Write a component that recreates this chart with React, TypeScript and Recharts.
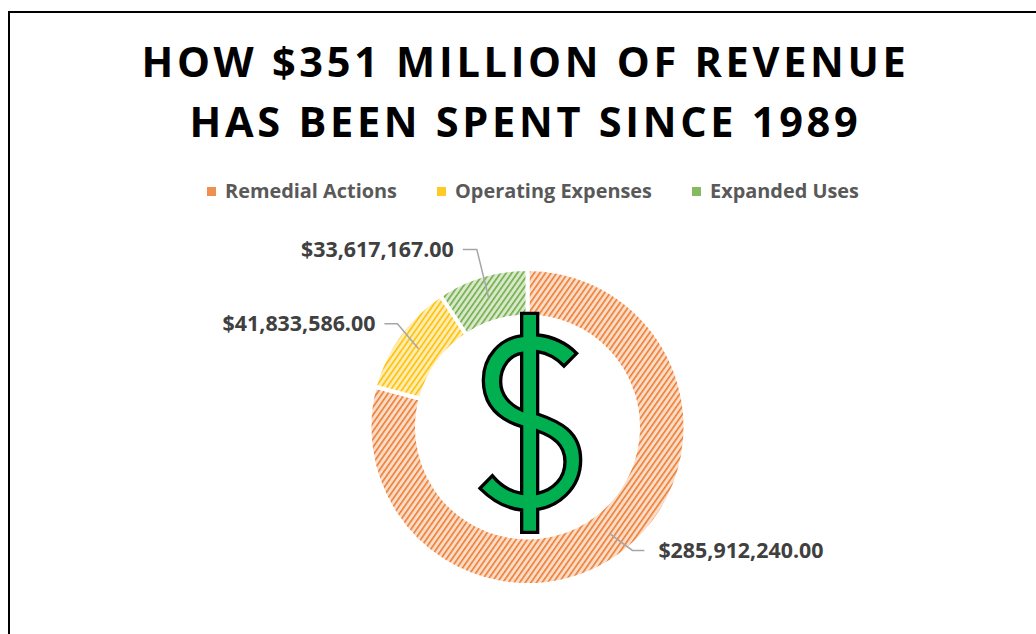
import { PieChart, Pie, Cell, Legend } from 'recharts';

const categories = ['Remedial Actions', 'Operating Expenses', 'Expanded Uses'];
const amounts = [285912240, 41833586, 33617167];
const titleLines = ['HOW $351 MILLION OF REVENUE', 'HAS BEEN SPENT SINCE 1989'];

const stripes = ['#ED7D31', '#FFC000', '#70AD47'];
const tints = ['#FBDCC8', '#FFEDB5', '#D8E8CB'];
// offset of the label's text anchor from the ring midpoint, then the elbow
const labelOffsets = [
  { elbowX: 23, elbowY: 17, endX: 35, anchor: 'start' },
  { elbowX: -21, elbowY: -25, endX: -34, anchor: 'end' },
  { elbowX: -12, elbowY: -49, endX: -26, anchor: 'end' },
];

const chartData = categories.map((name, i) => ({ name, value: amounts[i] }));
const money = (v: number) => '$' + v.toLocaleString('en-US', { minimumFractionDigits: 2 });

const RAD = Math.PI / 180;

function SliceLabel(props: any) {
  const { cx, cy, midAngle, innerRadius, outerRadius, index, value } = props;
  const r = (innerRadius + outerRadius) / 2;
  const x = cx + r * Math.cos(-midAngle * RAD);
  const y = cy + r * Math.sin(-midAngle * RAD);
  const o = labelOffsets[index];
  const ex = x + o.elbowX;
  const ey = y + o.elbowY;
  const tx = x + o.endX;
  return (
    <g>
      <polyline points={`${x},${y} ${ex},${ey} ${tx},${ey}`} fill="none" stroke="#A6A6A6" strokeWidth={1.5} />
      <text
        x={tx + (o.anchor === 'start' ? 14 : -9)}
        y={ey + 2}
        textAnchor={o.anchor}
        dominantBaseline="middle"
        fontFamily="Open Sans"
        fontWeight={700}
        fontSize={21.4}
        fill="#404040"
      >
        {money(value)}
      </text>
    </g>
  );
}

function LegendRow() {
  return (
    <div style={{ display: 'flex', fontFamily: 'Open Sans', fontWeight: 700, fontSize: 19.9, color: '#595959', lineHeight: '26px' }}>
      {categories.map((c, i) => (
        <div key={c} style={{ display: 'flex', alignItems: 'center', marginRight: 40 }}>
          <svg width={9} height={9} style={{ marginRight: 9 }}>
            <rect width={9} height={9} fill={stripes[i]} opacity={0.85} />
          </svg>
          <span style={{ whiteSpace: 'nowrap' }}>{c}</span>
        </div>
      ))}
    </div>
  );
}

function DollarSign() {
  return (
    <svg width={1036} height={634} style={{ position: 'absolute', left: 0, top: 0, pointerEvents: 'none' }}>
      <g transform="translate(460 300) scale(0.3333)">
        <path
          fill="#00B050"
          fillRule="evenodd"
          stroke="#000"
          strokeWidth={10}
          strokeLinejoin="miter"
          d="M185 40 L233 40 L233 105 C280 110 320 130 350 160 L312 198 C290 175 265 160 233 155 L233 342
             C300 365 362 395 362 480 C362 570 290 620 233 628 L233 697 L185 697 L185 630
             C135 625 95 600 60 565 L97 527 C120 555 150 575 185 580 L185 380
             C120 360 70 320 70 240 C70 170 120 115 185 107 Z
             M185 160 C150 165 122 200 122 245 C122 285 150 315 185 330 Z
             M233 393 C280 410 315 435 315 485 C315 535 280 570 233 580 Z"
        />
      </g>
    </svg>
  );
}

export default function App() {
  return (
    <div style={{ position: 'absolute', left: 0, top: 0, width: 1036, height: 634, overflow: 'hidden', background: '#fff' }}>
      <div style={{ position: 'absolute', left: 8, top: 11, right: 0, bottom: 0, borderLeft: '2px solid #000', borderTop: '2px solid #000' }} />
      {titleLines.map((line, i) => (
        <div
          key={line}
          style={{
            position: 'absolute',
            left: 0,
            width: 1051,
            top: 33 + i * 60,
            textAlign: 'center',
            fontFamily: 'Open Sans',
            fontWeight: 700,
            fontSize: 41.5,
            letterSpacing: 3.7,
            lineHeight: '56px',
            color: '#000',
            whiteSpace: 'nowrap',
          }}
        >
          {line}
        </div>
      ))}
      <PieChart width={1036} height={634} margin={{ top: 0, right: 0, bottom: 0, left: 0 }} style={{ position: 'absolute', left: 0, top: 0 }}>
        <defs>
          {stripes.map((color, i) => (
            <pattern key={color} id={`hatch${i}`} width={4.6} height={4.6} patternUnits="userSpaceOnUse" patternTransform="rotate(35)">
              <rect width={4.6} height={4.6} fill={tints[i]} />
              <rect width={1.6} height={4.6} fill={color} />
            </pattern>
          ))}
        </defs>
        <Legend content={<LegendRow />} wrapperStyle={{ position: 'absolute', left: 207, top: 178, width: 800, bottom: 'auto' }} />
        <Pie
          data={chartData}
          dataKey="value"
          nameKey="name"
          cx={527.5}
          cy={427}
          innerRadius={110.5}
          outerRadius={158}
          startAngle={90}
          endAngle={-270}
          stroke="#fff"
          strokeWidth={4}
          label={SliceLabel}
          labelLine={false}
          isAnimationActive={false}
        >
          {chartData.map((row, i) => (
            <Cell key={row.name} fill={`url(#hatch${i})`} />
          ))}
        </Pie>
      </PieChart>
      <DollarSign />
    </div>
  );
}
